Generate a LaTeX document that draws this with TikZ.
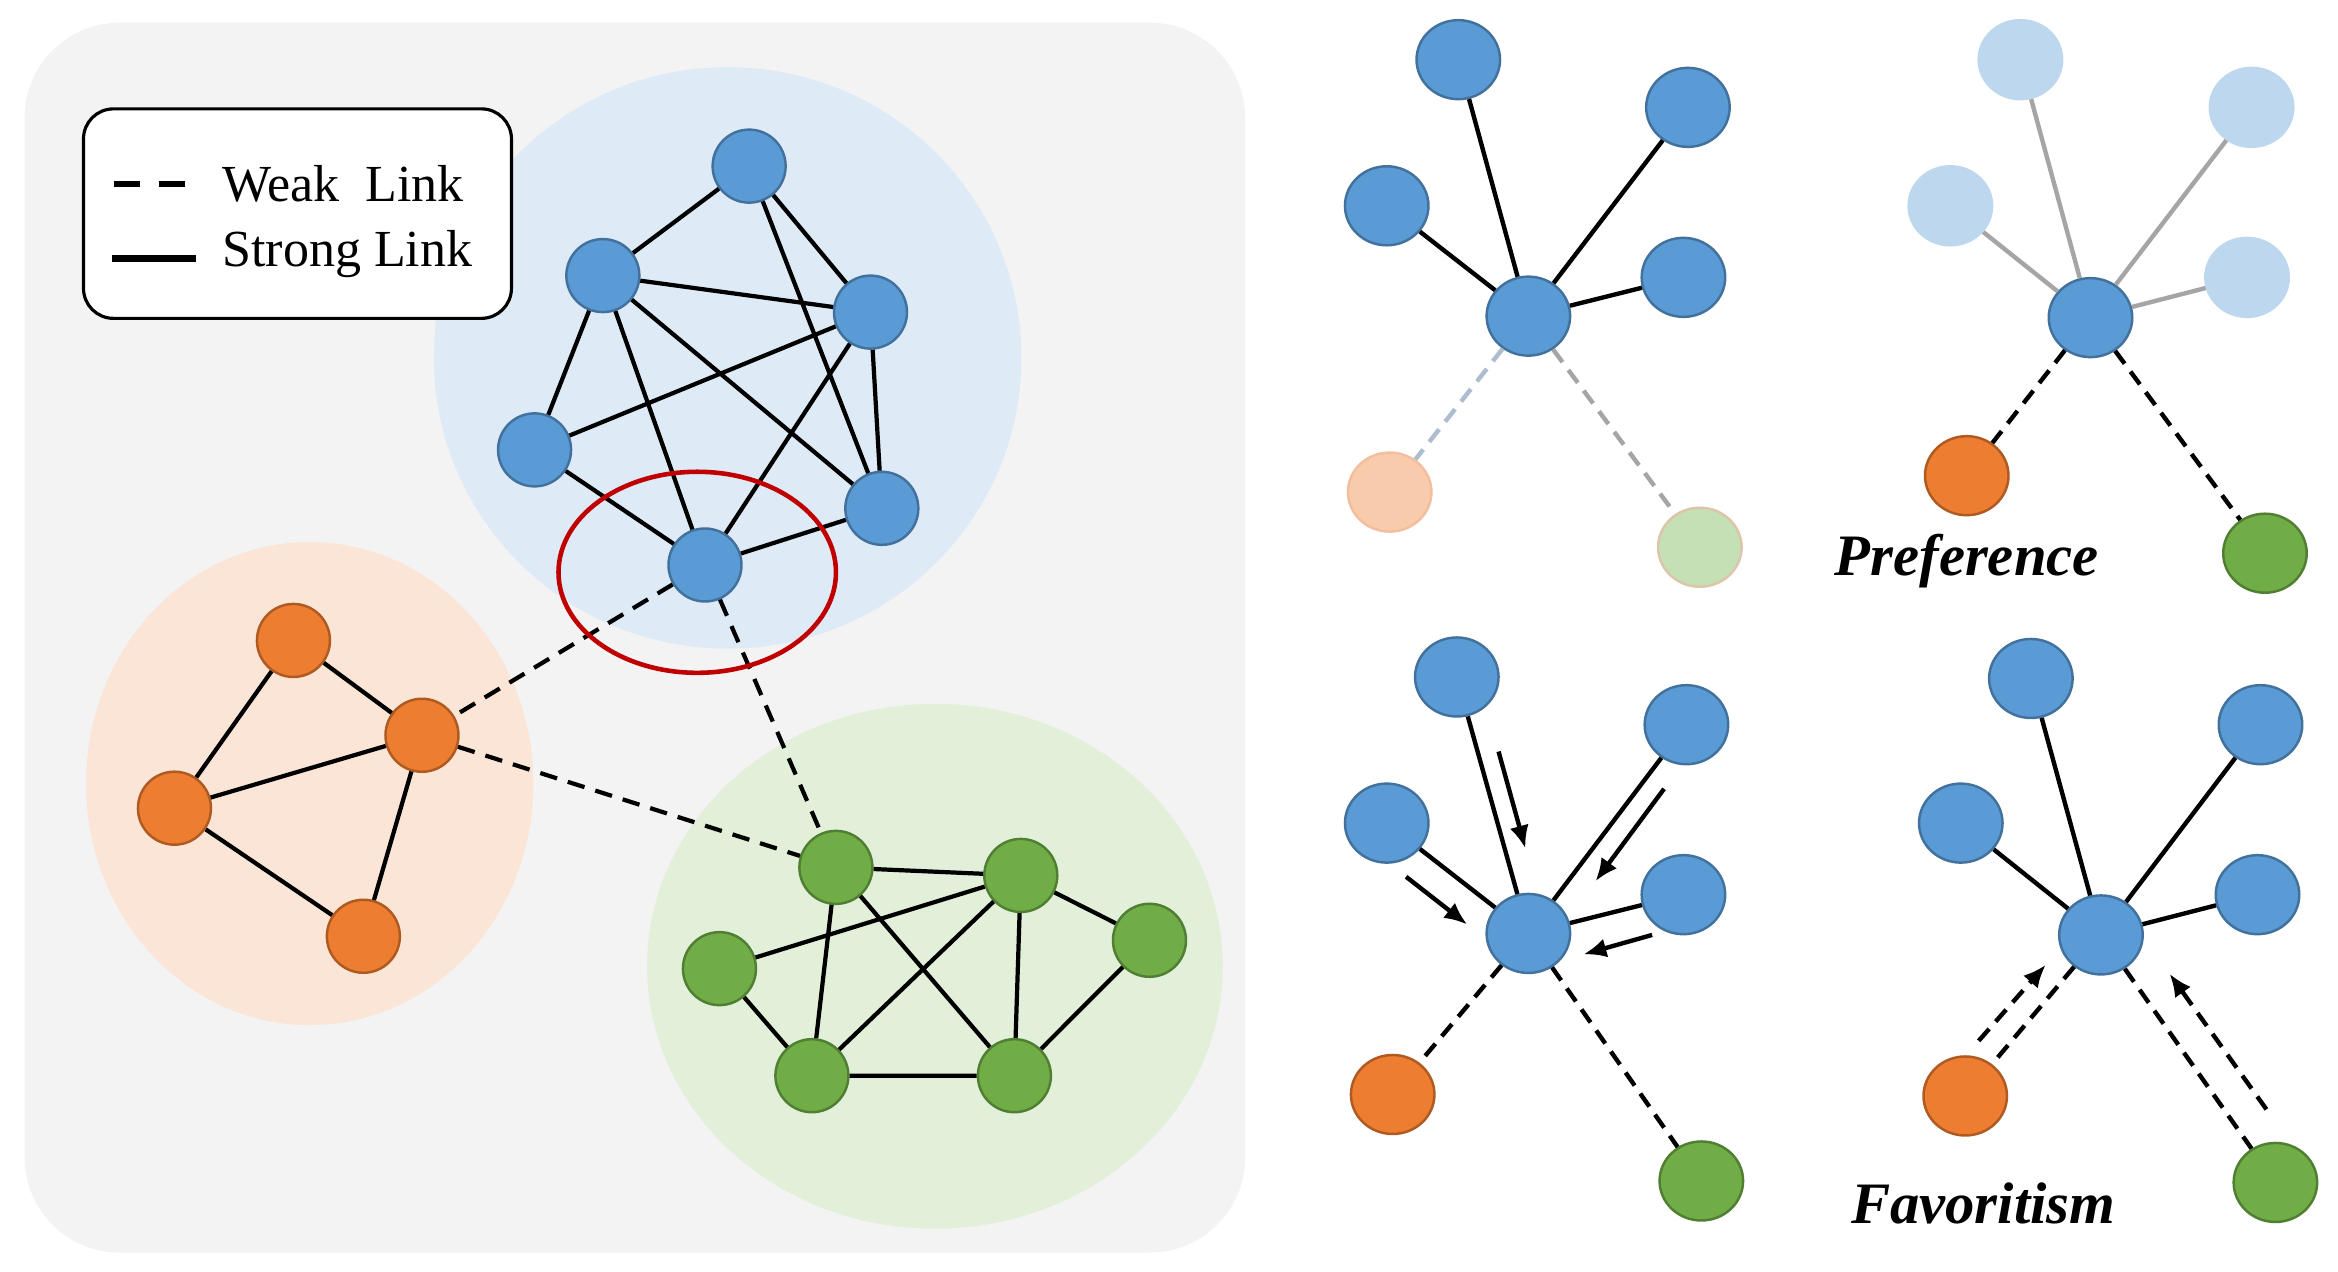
\documentclass[tikz,border=0pt]{standalone}
\usepackage{fontspec}
\setmainfont{Liberation Serif}
\usetikzlibrary{shapes.geometric,arrows.meta}
\definecolor{panel}{HTML}{F3F3F3}
\definecolor{bgblue}{HTML}{DEEBF7}
\definecolor{bgorange}{HTML}{FBE5D6}
\definecolor{bggreen}{HTML}{E2F0D9}
\definecolor{nblue}{HTML}{5B9BD5}
\definecolor{nbluedk}{HTML}{41719C}
\definecolor{norange}{HTML}{ED7D31}
\definecolor{norangedk}{HTML}{AE5A21}
\definecolor{ngreen}{HTML}{70AD47}
\definecolor{ngreendk}{HTML}{507E32}
\definecolor{fblue}{HTML}{BDD7EE}
\definecolor{forange}{HTML}{F8CBAD}
\definecolor{forangedk}{HTML}{F2BE9E}
\definecolor{fgreen}{HTML}{C5E0B4}
\definecolor{fgreendk}{HTML}{DCC5A8}
\definecolor{fedge}{HTML}{A5A5A5}
\definecolor{fdashblue}{HTML}{ADBCCE}
\definecolor{ringred}{HTML}{C00000}
\begin{document}
\begin{tikzpicture}[x=0.01491cm,y=-0.01491cm,
  lnode/.style={circle,minimum size=0.73cm,inner sep=0pt,line width=0.7pt},
  rnode/.style={ellipse,minimum width=0.835cm,minimum height=0.79cm,inner sep=0pt,line width=0.7pt},
  bluen/.style={fill=nblue,draw=nbluedk},
  orangen/.style={fill=norange,draw=norangedk},
  greenn/.style={fill=ngreen,draw=ngreendk},
  fbluen/.style={fill=fblue,draw=fblue},
  forangen/.style={fill=forange,draw=forangedk},
  fgreenn/.style={fill=fgreen,draw=fgreendk},
  strong/.style={line width=1.2pt},
  weak/.style={line width=1.2pt,dash pattern=on 5pt off 3.2pt},
  rstrong/.style={line width=1.25pt},
  rweak/.style={line width=1.25pt,dash pattern=on 4.5pt off 2.8pt},
  faint/.style={line width=1.25pt,draw=fedge},
  pointer/.style={line width=1.25pt,-{Latex[length=6.5pt,width=5.5pt]}},
  title/.style={font=\fontsize{16.7}{20}\selectfont\bfseries\itshape,inner sep=0pt,anchor=base},
  legtext/.style={font=\fontsize{14.8}{18}\selectfont,inner sep=0pt,anchor=base west}
]
\useasboundingbox (0,0) rectangle (1568,852.4);
% left panel
\fill[panel,rounded corners=0.95cm] (16.5,15.2) rectangle (835,840);
\fill[bgblue] (488,240) ellipse [x radius=2.937cm, y radius=2.907cm];
\fill[bgorange] (207.7,525.5) ellipse [x radius=2.2365cm, y radius=2.415cm];
\fill[bggreen] (627,648) ellipse [x radius=2.878cm, y radius=2.624cm];
% legend
\draw[fill=white,line width=0.9pt,rounded corners=0.3cm] (56,73) rectangle (343,213.5);
\coordinate (lw1) at (76.3,123.4);
\coordinate (lw2) at (124.8,123.4);
\coordinate (ls1) at (74.9,173.3);
\coordinate (ls2) at (131.5,173.3);
\draw[line width=1.6pt,dash pattern=on 7.4pt off 5.6pt] (lw1) -- (lw2);
\draw[line width=1.9pt] (ls1) -- (ls2);
\node[legtext] (lt1) at (148.7,135.3) {Weak~~Link};
\node[legtext] (lt2) at (148.7,178.4) {Strong Link};
% blue cluster
\node[lnode,bluen] (B1) at (502.4,111.4) {};
\node[lnode,bluen] (B2) at (404.3,184.8) {};
\node[lnode,bluen] (B3) at (583.8,209.3) {};
\node[lnode,bluen] (B4) at (358.5,301.7) {};
\node[lnode,bluen] (B5) at (591.4,340.9) {};
\node[lnode,bluen] (B6) at (472.8,378.9) {};
% orange cluster
\node[lnode,orangen] (O1) at (196.8,429.5) {};
\node[lnode,orangen] (O2) at (283,493.1) {};
\node[lnode,orangen] (O3) at (117,542) {};
\node[lnode,orangen] (O4) at (243.7,627.9) {};
% green cluster
\node[lnode,greenn] (G1) at (560.6,581.7) {};
\node[lnode,greenn] (G2) at (684.6,587.1) {};
\node[lnode,greenn] (G3) at (770.9,630.6) {};
\node[lnode,greenn] (G4) at (482.5,649.6) {};
\node[lnode,greenn] (G5) at (544.5,721.4) {};
\node[lnode,greenn] (G6) at (680.3,721.4) {};
\draw[strong] (B1)--(B2) (B1)--(B3) (B1)--(B5) (B2)--(B3) (B2)--(B4) (B2)--(B6) (B2)--(B5)
  (B3)--(B4) (B3)--(B6) (B3)--(B5) (B4)--(B6) (B6)--(B5);
\draw[strong] (O1)--(O2) (O1)--(O3) (O3)--(O2) (O2)--(O4) (O3)--(O4);
\draw[strong] (G1)--(G2) (G1)--(G5) (G1)--(G6) (G2)--(G4) (G2)--(G5) (G2)--(G6) (G2)--(G3)
  (G4)--(G5) (G5)--(G6) (G6)--(G3);
\draw[weak] (B6)--(O2) (B6)--(G1) (O2)--(G1);
\node[draw=ringred,line width=1.3pt,ellipse,minimum width=2.774cm,minimum height=2.01cm,inner sep=0pt] (ring) at (467.6,383.8) {};
% panel A (top-left star)
\node[rnode,bluen] (a1) at (978,40) {};
\node[rnode,bluen] (a2) at (1132,72) {};
\node[rnode,bluen] (a3) at (930,138) {};
\node[rnode,bluen] (a4) at (1129,186) {};
\node[rnode,bluen] (ac) at (1025,212) {};
\node[rnode,forangen] (ao) at (932,330) {};
\node[rnode,fgreenn] (ag) at (1140,367) {};
\draw[rstrong] (ac)--(a1) (ac)--(a2) (ac)--(a3) (ac)--(a4);
\draw[rweak,draw=fdashblue] (ac)--(ao);
\draw[rweak,draw=fedge] (ac)--(ag);
% panel B (top-right star)
\node[rnode,fbluen] (b1) at (1355,40) {};
\node[rnode,fbluen] (b2) at (1510,72) {};
\node[rnode,fbluen] (b3) at (1308,138) {};
\node[rnode,fbluen] (b4) at (1507,186) {};
\node[rnode,bluen] (bc) at (1402,213) {};
\node[rnode,orangen] (bo) at (1319,319) {};
\node[rnode,greenn] (bg) at (1519,371) {};
\draw[faint] (bc)--(b1) (bc)--(b2) (bc)--(b3) (bc)--(b4);
\draw[rweak] (bc)--(bo) (bc)--(bg);
\node[title] (pref) at (1319,386) {Preference};
% panel C (bottom-left star)
\node[rnode,bluen] (c1) at (977,454) {};
\node[rnode,bluen] (c2) at (1131,486) {};
\node[rnode,bluen] (c3) at (930,552) {};
\node[rnode,bluen] (c4) at (1129,600) {};
\node[rnode,bluen] (cc) at (1025,626) {};
\node[rnode,orangen] (co) at (934,734) {};
\node[rnode,greenn] (cg) at (1141,792) {};
\draw[rstrong] (cc)--(c1) (cc)--(c2) (cc)--(c3) (cc)--(c4);
\draw[rweak] (cc)--(co) (cc)--(cg);
\coordinate (p1s) at (1005,504); \coordinate (p1e) at (1023,569);
\coordinate (p2s) at (1116,529); \coordinate (p2e) at (1070,591);
\coordinate (p3s) at (943,588);  \coordinate (p3e) at (984,620);
\coordinate (p4s) at (1108,627); \coordinate (p4e) at (1062,640);
\draw[pointer] (p1s)--(p1e);
\draw[pointer] (p2s)--(p2e);
\draw[pointer] (p3s)--(p3e);
\draw[pointer] (p4s)--(p4e);
% panel D (bottom-right star)
\node[rnode,bluen] (d1) at (1362,455) {};
\node[rnode,bluen] (d2) at (1516,486) {};
\node[rnode,bluen] (d3) at (1315,552) {};
\node[rnode,bluen] (d4) at (1514,600) {};
\node[rnode,bluen] (dc) at (1409,627) {};
\node[rnode,orangen] (do) at (1318,735) {};
\node[rnode,greenn] (dg) at (1526,793) {};
\draw[rstrong] (dc)--(d1) (dc)--(d2) (dc)--(d3) (dc)--(d4);
\draw[rweak] (dc)--(do) (dc)--(dg);
\coordinate (q1s) at (1327,698); \coordinate (q1e) at (1372,647);
\coordinate (q2s) at (1520,744); \coordinate (q2e) at (1455,653);
\draw[pointer,rweak] (q1s)--(q1e);
\draw[pointer,rweak] (q2s)--(q2e);
\node[title] (fav) at (1330,820.4) {Favoritism};
\end{tikzpicture}
\end{document}
